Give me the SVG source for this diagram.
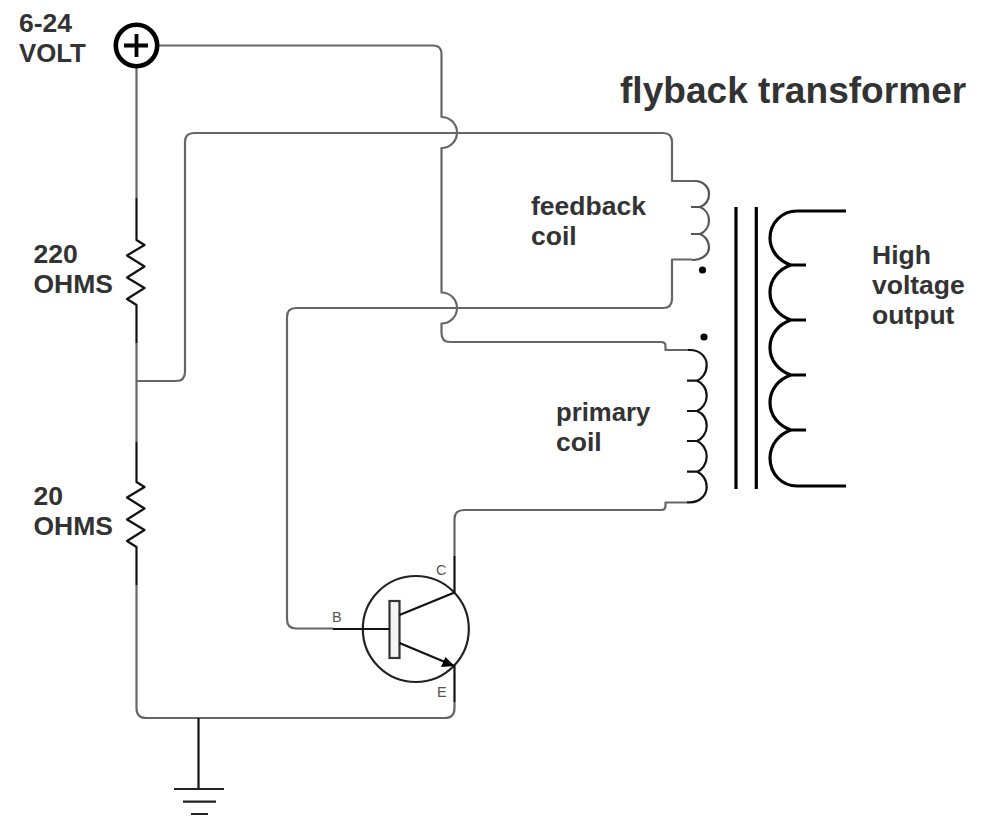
<svg xmlns="http://www.w3.org/2000/svg" width="1007" height="825" viewBox="0 0 1007 825">
<style>
.w{fill:none;stroke:#666;stroke-width:2.2;stroke-linejoin:round}
.k{fill:none;stroke:#111;stroke-width:2.2;stroke-linejoin:round}
.m{fill:none;stroke:#000;stroke-width:3.2}
.g{fill:none;stroke:#555;stroke-width:2.2}
.t{font-family:"Liberation Sans",Arial,sans-serif;font-weight:700;font-size:26.5px;fill:#333}
.p{font-family:"Liberation Sans",Arial,sans-serif;font-size:14.5px;fill:#555}
</style>
<rect width="1007" height="825" fill="#fff"/>
<g id="connectors">
<path class="w" d="M159 45.500H433Q441.500 45.500 441.500 54V117A15.500 15.500 0 0 1 441.500 148V292.500A15.500 15.500 0 0 1 441.500 323.500V333Q441.500 342 450 342H661Q665.500 342 665.500 346V350H688"/>
<path class="w" d="M136.500 381H176Q185 381 185 372V142Q185 133 194 133H663Q672 133 672 142V181H695"/>
<path class="w" d="M692 259.500H672V299Q672 308 663 308H296Q287 308 287 317V619Q287 628.500 296 628.500H333"/>
<path class="w" d="M136.500 68V198M136.500 343V442M136.500 585V708Q136.500 718 146 718H445Q454.500 718 454.500 708V702"/>
<path class="w" d="M687 502.500H665.500V506Q665.500 510 661 510H464Q454.500 510 454.500 519V556"/>
<path class="k" d="M198.500 718V789"/>
</g>
<g id="supply"><circle cx="136.500" cy="45.500" r="20.700" fill="#fff" stroke="#000" stroke-width="4.600"/><path d="M124 45.500H148M136.500 34V57" stroke="#000" stroke-width="3.800" fill="none"/></g>
<g id="resistor-220"><path class="k" d="M136.500 198V240L144.500 245L127 255.500L144.500 266.500L127 277.500L144.500 288L127 299L136.500 305V343"/></g>
<g id="resistor-20"><path class="k" d="M136.500 442V482L144.500 487L127 497.500L144.500 508.500L127 519.500L144.500 530L127 541L136.500 547V585"/></g>
<g id="ground"><path d="M174 789H224M183 801.700H216M191 814H208" stroke="#222" stroke-width="2.200" fill="none"/></g>
<g id="feedback-coil"><path class="g" d="M695 181C703 181 709 187 709 194C709 201 705 205 700 207H691M700 207C705 209 709 214 709 220.500C709 227 705 232 700 234H691M700 234C705 236 709 241 709 247C709 254 703 260 692 260"/><circle cx="702.500" cy="270" r="3.600"/></g>
<g id="primary-coil"><circle cx="704" cy="337" r="3.600"/><path class="k" d="M688 350H690C700 350 706.700 357 706.700 365C706.700 373 702 379 697 380.700H687M697 380.700C702 382.500 706.700 388 706.700 396C706.700 403 702 409 697 411H687M697 411C702 413 706.700 418 706.700 426C706.700 433 702 439 697 441H687M697 441C702 443 706.700 449 706.700 456.500C706.700 464 702 470 697 471.700H687M697 471.700C702 473.500 706.700 479 706.700 487C706.700 495 700 502.300 690 502.300H687"/></g>
<g id="core"><path class="m" d="M736 207V489M756.300 207V489"/></g>
<g id="secondary-coil"><path class="m" d="M846 211H797C782 211 770 223 770 238C770 251 779 261 791 265H806M791 265C779 269 770 279 770 292.500C770 306 779 316 791 320H806M791 320C779 324 770 334 770 347.500C770 361 779 371 791 375H806M791 375C779 379 770 389 770 402.500C770 416 779 426 791 430H806M791 430C779 434 770 445 770 458C770 474 782 486 797 486H846"/></g>
<g id="transistor">
<circle cx="415.800" cy="629" r="53" fill="none" stroke="#222" stroke-width="2.200"/>
<rect x="389.500" y="601" width="10" height="57" fill="#f4f4f4" stroke="#333" stroke-width="2.200"/>
<path class="k" d="M333 629H389.500M399.500 615L454.500 592.500V556M399.500 643L454.500 666V702"/>
<path d="M454.500 666L441 667L445.500 657Z" fill="#000"/>
<text class="p" x="332" y="622">B</text><text class="p" x="436" y="575">C</text><text class="p" x="437" y="697">E</text>
</g>
<g id="labels">
<text class="t" x="19" y="32">6-24</text><text class="t" x="19" y="62" style="font-size:25.800px">VOLT</text>
<text class="t" x="33.500" y="263">220</text><text class="t" x="33.500" y="293">OHMS</text>
<text class="t" x="33.500" y="505">20</text><text class="t" x="33.500" y="535">OHMS</text>
<text class="t" x="531" y="215">feedback</text><text class="t" x="531" y="245">coil</text>
<text class="t" x="556" y="421" style="font-size:25.700px">primary</text><text class="t" x="556" y="451">coil</text>
<text class="t" x="872" y="264">High</text><text class="t" x="872" y="294">voltage</text><text class="t" x="872" y="324">output</text>
<text class="t" x="620" y="103" style="font-size:37.100px">flyback transformer</text>
</g>
</svg>
